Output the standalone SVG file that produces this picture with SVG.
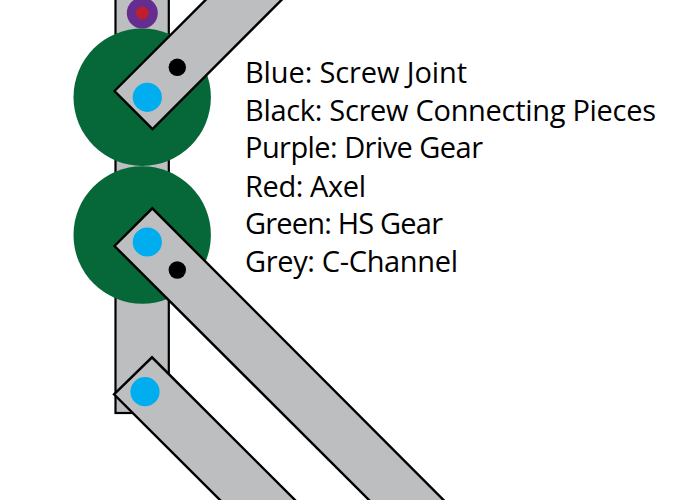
<svg xmlns="http://www.w3.org/2000/svg" width="690" height="500" viewBox="0 0 690 500">
<style>
.g{fill:#bcbec0;stroke:#000;stroke-width:2.4;stroke-linejoin:miter}
.c{fill:#bcbec0;stroke:#000;stroke-width:2.2}
.h{fill:#066839}
.b{fill:#00aeef}
.k{fill:#000}
text{font-family:"Open Sans","Noto Sans",sans-serif;font-size:29px;fill:#000}
</style>
<g id="channel"><rect class="c" x="115.500" y="-5" width="53.300" height="418"/></g>
<g id="drive-gear"><circle cx="142.300" cy="13" r="15.500" fill="#662d91"/><circle cx="142.300" cy="13" r="6.500" fill="#be1e2d"/></g>
<g id="gear-top"><circle class="h" cx="142.200" cy="97.200" r="68.700"/></g>
<g id="gear-bottom"><circle class="h" cx="142.200" cy="235" r="68.700"/></g>
<g id="arm-top"><path class="g" d="M114.500 91L210.500 -5L286.500 -5L152.500 129Z"/><circle class="k" cx="177.300" cy="67.300" r="8.700"/><circle class="b" cx="147.300" cy="97.300" r="14.600"/></g>
<g id="arm-mid"><path class="g" d="M114.500 246L152.300 208.300L448.500 505L374 505Z"/><circle class="b" cx="147.300" cy="242" r="14.600"/><circle class="k" cx="177.300" cy="270" r="8.700"/></g>
<g id="arm-low"><path class="g" d="M114 394.300L152 357.300L300 505L225 505Z"/><circle class="b" cx="145" cy="391.700" r="14.600"/></g>
<g id="legend">
<text x="245" y="82.700" textLength="222">Blue: Screw Joint</text>
<text x="245" y="120.700" textLength="411">Black: Screw Connecting Pieces</text>
<text x="245" y="158.300" textLength="238">Purple: Drive Gear</text>
<text x="245" y="196.700" textLength="121">Red: Axel</text>
<text x="245" y="234.300" textLength="198">Green: HS Gear</text>
<text x="245" y="271.800" textLength="213">Grey: C-Channel</text>
</g>
</svg>
